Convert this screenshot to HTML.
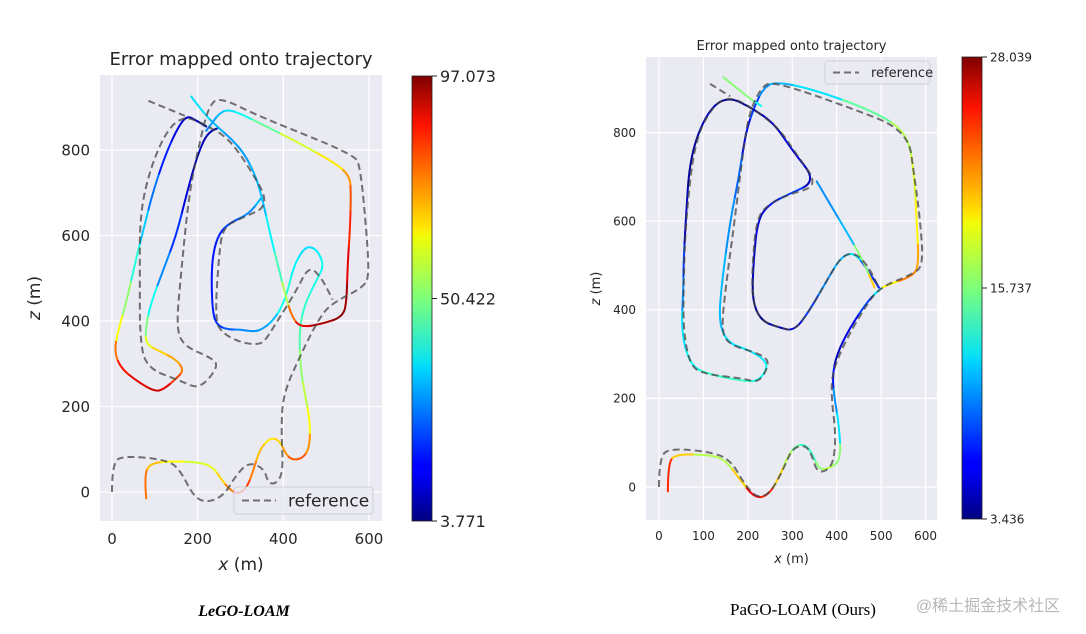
<!DOCTYPE html>
<html><head><meta charset="utf-8"><style>
html,body{margin:0;padding:0;background:#fff;width:1086px;height:634px;overflow:hidden}
svg{display:block;font-family:"DejaVu Sans","Liberation Sans",sans-serif}
</style></head><body>
<svg id="chart" width="1086" height="634" viewBox="0 0 1086 634">
<defs>
<linearGradient id="jet" x1="0" y1="1" x2="0" y2="0">
<stop offset="0" stop-color="#00007f"/><stop offset="0.11" stop-color="#0000ff"/><stop offset="0.125" stop-color="#0000ff"/><stop offset="0.34" stop-color="#00d4ff"/><stop offset="0.36" stop-color="#0ce4ef"/><stop offset="0.5" stop-color="#7dff7a"/><stop offset="0.64" stop-color="#f1fc06"/><stop offset="0.66" stop-color="#ffe600"/><stop offset="0.89" stop-color="#ff1300"/><stop offset="1" stop-color="#7f0000"/>
</linearGradient>
</defs>
<g id="left"></g>
<g id="right"></g>
<text x="244" y="616" text-anchor="middle" font-family="Liberation Serif,serif" font-style="italic" font-weight="bold" font-size="16">LeGO-LOAM</text>
<text x="803" y="615" text-anchor="middle" font-family="Liberation Serif,serif" font-size="17">PaGO-LOAM (Ours)</text>
<text x="988" y="611" text-anchor="middle" font-family="Liberation Sans,Noto Sans CJK SC,sans-serif" font-size="16" fill="#b8b8b8">@稀土掘金技术社区</text>
</svg>
<script>
// ---- data ----
const xTicks = [0,200,400,600];
const zTicks = [0,200,400,600,800];
const xTicksR = [0,100,200,300,400,500,600];
const zTicksR = [0,200,400,600,800];
const refSegLeft = [
 [[0,0],[0,70],[30,85],[130,75],[160,50],[190,-10],[220,-25],[260,-10],[290,40],[320,70],[355,55],[365,20],[385,20],[400,50],[395,150],[400,230],[440,320],[480,400],[510,440],[590,480],[600,510],[595,600],[580,760],[565,790],[340,880],[250,925],[225,900],[205,820],[180,700],[160,500],[150,380],[170,340],[230,315],[250,295],[205,240],[160,260],[80,290],[65,360],[65,500],[65,650],[90,760],[130,850],[170,880],[215,860],[270,830],[320,760],[370,670],[300,640],[260,620],[250,560],[240,400],[260,370],[300,350],[335,345],[355,350],[380,390],[430,470],[460,530],[490,500],[515,450]],
 [[85,915],[170,880]]
];
const refSegRight = [
 [[0,0],[0,70],[30,88],[130,77],[165,55],[190,10],[220,-25],[250,-15],[280,40],[300,88],[330,95],[345,70],[355,35],[375,35],[393,55],[398,120],[388,200],[390,260],[420,330],[460,400],[495,450],[570,480],[595,500],[588,600],[575,700],[560,805],[420,860],[260,915],[232,905],[205,850],[192,780],[170,600],[150,450],[140,350],[160,320],[230,300],[250,280],[225,235],[190,245],[100,255],[70,275],[55,350],[55,450],[60,600],[80,780],[120,860],[160,882],[210,855],[270,810],[310,750],[360,680],[290,660],[250,640],[220,610],[210,500],[210,420],[230,375],[270,360],[305,352],[340,400],[380,470],[410,520],[440,530],[470,500],[495,450]],
 [[115,910],[160,882]]
];
const estLeft = [
 [[80,-15,82],[75,40,75],[90,68,68],[140,72,62],[200,70,58],[235,60,60],[255,30,66],[275,5,74],[295,-5,82],[315,10,80],[330,50,74],[345,100,68],[370,128,64],[392,120,66],[405,90,72],[420,75,77],[445,78,78],[462,105,72],[462,170,62],[450,230,56],[440,290,52],[437,380,46],[450,440,43],[480,500,41],[495,530,40],[480,565,38],[460,575,36],[445,565,36],[425,530,38],[410,470,42],[395,430,40],[375,400,33],[350,380,30],[330,375,29],[300,380,28],[270,380,24],[245,390,20],[235,420,18],[232,500,17],[236,560,17],[250,605,18],[275,630,22],[320,650,28],[350,690,32]],
 [[185,925,42],[215,885,36],[245,855,32],[280,825,30],[310,790,30],[335,740,32],[350,690,33],[370,600,38],[390,520,45],[405,460,55],[420,410,75],[440,385,88],[490,393,93],[540,410,96],[548,450,94],[550,530,88],[556,620,82],[558,700,78],[555,740,72],[520,770,64],[430,820,58],[350,860,48],[300,885,40],[270,895,36],[250,885,33],[235,865,30],[220,845,28]],
 [[245,850,10],[225,845,8],[200,790,9],[175,700,12],[150,600,20],[120,520,28],[90,440,40],[78,380,50],[80,345,60],[110,330,66],[150,310,70],[168,285,74],[150,265,80],[120,240,88],[100,235,90],[60,258,88],[20,290,84],[5,330,75],[15,380,62],[35,450,52],[55,540,42],[75,620,34],[95,700,26],[125,790,18],[155,855,12],[175,880,10],[195,870,10],[220,855,8]]
];
const estRight = [
 [[20,-10,28],[20,55,24],[40,75,20],[120,72,17],[150,60,17],[180,20,20],[215,-25,25],[245,-20,24],[270,20,20],[290,70,17],[310,95,15],[330,95,14],[345,75,14],[360,40,16],[380,40,17],[410,60,16],[405,140,12],[395,200,10],[390,250,7],[400,300,5],[430,360,6],[470,420,8],[495,445,12],[510,455,19],[570,475,22],[585,500,21],[580,600,19],[575,700,18],[560,800,17],[480,850,15],[340,900,12],[260,915,11],[235,900,10],[215,860,8],[195,800,6],[180,700,9],[160,600,10],[140,450,11],[135,370,11],[155,325,12],[200,310,12],[235,290,12],[245,270,13],[225,240,13],[195,238,14],[110,255,14],[70,275,13],[50,350,12],[55,450,10],[55,500,8],[60,600,5],[70,750,4],[110,850,5],[155,882,4],[210,855,4],[260,820,5],[300,760,6],[355,690,5],[290,660,8],[250,640,7],[222,605,6],[212,500,5],[210,420,4],[230,375,4],[270,360,5],[305,352,6],[340,400,8],[380,470,10],[410,520,11],[440,530,12],[470,490,8],[495,450,7]],
 [[355,690,8],[390,630,10],[420,580,11],[460,510,16],[485,450,20]],
 [[145,925,20],[200,880,16],[230,860,13]]
];
const cbarLeft = [3.771,50.422,97.073];
const cbarRight = [3.436,15.737,28.039];

// ---- drawing ----
const NS='http://www.w3.org/2000/svg';
function mk(tag,attrs,parent,txt){const e=document.createElementNS(NS,tag);for(const k in attrs)e.setAttribute(k,attrs[k]);if(txt!==undefined)e.textContent=txt;parent.appendChild(e);return e;}
function jet(t){t=Math.max(0,Math.min(1,t));
 const r=Math.max(0,Math.min(1,1.5-Math.abs(4*t-3))),g=Math.max(0,Math.min(1,1.5-Math.abs(4*t-2))),b=Math.max(0,Math.min(1,1.5-Math.abs(4*t-1)));
 return `rgb(${Math.round(r*255)},${Math.round(g*255)},${Math.round(b*255)})`;}
function smoothPath(pts){
 if(pts.length<3)return 'M'+pts.map(p=>p.join(',')).join(' L');
 let d='M'+pts[0][0]+','+pts[0][1];
 for(let i=1;i<pts.length-1;i++){
  const mx=(pts[i][0]+pts[i+1][0])/2,my=(pts[i][1]+pts[i+1][1])/2;
  d+=` Q${pts[i][0]},${pts[i][1]} ${mx},${my}`;
 }
 const l=pts[pts.length-1];d+=` L${l[0]},${l[1]}`;return d;
}

function panel(g,cfg){
 const sx=v=>cfg.x0+v*cfg.kx, sz=v=>cfg.z0-v*cfg.kz;
 const bg=mk('rect',{x:cfg.L,y:cfg.T,width:cfg.R-cfg.L,height:cfg.B-cfg.T,fill:'#eaeaf2'},g);
 
 
 cfg.xt.forEach(v=>{
  const l=mk('line',{x1:sx(v),x2:sx(v),y1:cfg.T,y2:cfg.B,stroke:'#fff','stroke-width':1.2},g);
  
  
  const t=mk('text',{x:sx(v),y:cfg.B+cfg.fs+8,'text-anchor':'middle','font-size':cfg.fs,fill:'#262626'},g,String(v));
  
  
 });
 cfg.zt.forEach(v=>{
  const l=mk('line',{x1:cfg.L,x2:cfg.R,y1:sz(v),y2:sz(v),stroke:'#fff','stroke-width':1.2},g);
  
  
  const t=mk('text',{x:cfg.L-10,y:sz(v)+cfg.fs*0.36,'text-anchor':'end','font-size':cfg.fs,fill:'#262626'},g,String(v));
  
  
 });
 const [vmin,,vmax]=cfg.cb;
 cfg.est.forEach(seg=>{
  const P=seg.map(a=>[sx(a[0]),sz(a[1]),a[2]]);
  const n=P.length;
  for(let i=0;i<n-1;i++){
   // piece around point i+1 : from mid(i,i+1) to mid(i+1,i+2) with control at i+1
   const a=P[i],b=P[i+1];
   const sxp=i===0?a[0]:(a[0]+b[0])/2, syp=i===0?a[1]:(a[1]+b[1])/2;
   let d;
   if(i+2<n){const c=P[i+2];d=`M${sxp},${syp} Q${b[0]},${b[1]} ${(b[0]+c[0])/2},${(b[1]+c[1])/2}`;}
   else d=`M${sxp},${syp} L${b[0]},${b[1]}`;
   const col=jet((b[2]-vmin)/(vmax-vmin));
   const p=mk('path',{d:d,fill:'none',stroke:col,'stroke-width':2,'stroke-linecap':'round'},g);
   
   
  }
 });
 cfg.ref.forEach(seg=>{
  const p=mk('path',{d:smoothPath(seg.map(q=>[sx(q[0]),sz(q[1])])),fill:'none',stroke:'#444','stroke-opacity':0.75,'stroke-width':2,'stroke-dasharray':'7,4','stroke-linejoin':'round'},g);
  
  
 });
 const title=mk('text',{x:(cfg.L+cfg.R)/2,y:cfg.T-cfg.tfs*0.55,'text-anchor':'middle','font-size':cfg.tfs,fill:'#262626'},g,'Error mapped onto trajectory');
 
 
 const xl=mk('text',{x:(cfg.L+cfg.R)/2,y:cfg.B+cfg.fs*2+19,'text-anchor':'middle','font-size':cfg.lfs,fill:'#262626'},g);
 xl.innerHTML='<tspan font-style="italic">x</tspan> (m)';
 
 
 const zl=mk('text',{x:0,y:0,'text-anchor':'middle','font-size':cfg.lfs,fill:'#262626',transform:`translate(${cfg.zlx},${(cfg.T+cfg.B)/2}) rotate(-90)`},g);
 zl.innerHTML='<tspan font-style="italic">z</tspan> (m)';
 
 
 const lg=mk('g',{},g);
 
 
 mk('rect',{x:cfg.lg[0],y:cfg.lg[1],width:cfg.lg[2],height:cfg.lg[3],rx:3,fill:'#eaeaf2','fill-opacity':0.8,stroke:'#d0d0d8'},lg);
 mk('line',{x1:cfg.lg[0]+8,x2:cfg.lg[0]+8+cfg.lfs*2,y1:cfg.lg[1]+cfg.lg[3]/2,y2:cfg.lg[1]+cfg.lg[3]/2,stroke:'#444','stroke-opacity':0.75,'stroke-width':2,'stroke-dasharray':'7,4'},lg);
 const lt=mk('text',{x:cfg.lg[0]+cfg.lfs*2+20,y:cfg.lg[1]+cfg.lg[3]/2+cfg.legfs*0.36,'font-size':cfg.legfs,fill:'#262626'},lg,'reference');
 
 
 const cb=mk('rect',{x:cfg.cbx,y:cfg.cbT,width:20,height:cfg.cbB-cfg.cbT,fill:'url(#jet)',stroke:'#222','stroke-width':0.8},g);
 
 
 cfg.cb.forEach(v=>{
  const y=cfg.cbB-(v-vmin)/(vmax-vmin)*(cfg.cbB-cfg.cbT);
  mk('line',{x1:cfg.cbx+20,x2:cfg.cbx+25,y1:y,y2:y,stroke:'#222'},g);
  const t=mk('text',{x:cfg.cbx+28,y:y+cfg.cbfs*0.36,'font-size':cfg.cbfs,fill:'#262626'},g,v.toFixed(3));
  
  
 });
}
panel(document.getElementById('left'),{L:100,R:382,T:75,B:521,x0:112,kx:0.4283,z0:492,kz:0.4275,xt:xTicks,zt:zTicks,fs:15,tfs:18,lfs:17,legfs:17,zlx:40,est:estLeft,ref:refSegLeft,cb:cbarLeft,cbx:412,cbT:76,cbB:521,cbfs:16,lg:[234,487,139,27]});
panel(document.getElementById('right'),{L:646,R:937,T:57,B:520,x0:659,kx:0.4443,z0:487,kz:0.443,xt:xTicksR,zt:zTicksR,fs:12,tfs:13,lfs:13,legfs:13,zlx:600,est:estRight,ref:refSegRight,cb:cbarRight,cbx:962,cbT:57,cbB:519,cbfs:12,lg:[825,61,105,23]});
</script>
</body></html>
